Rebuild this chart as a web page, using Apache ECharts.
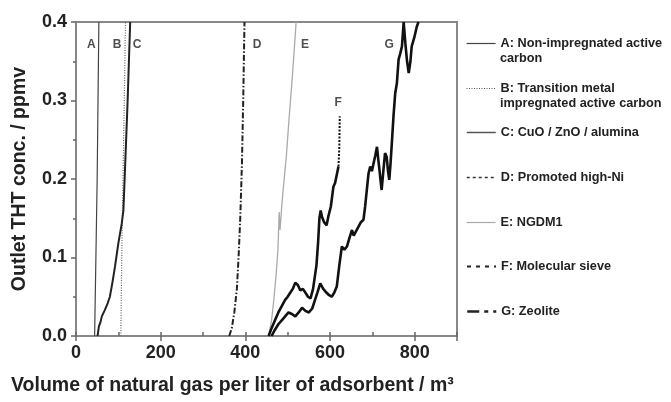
<!DOCTYPE html>
<html>
<head>
<meta charset="utf-8">
<script src="https://cdn.jsdelivr.net/npm/echarts@6/dist/echarts.min.js"></script>
<style>
  html, body { margin: 0; padding: 0; background: #fff; }
  #chart { width: 671px; height: 402px; }
</style>
</head>
<body>
<div id="chart"></div>
<script>
// breakthrough curves, [volume m3/L, THT ppmv]
var aPoints = [[44, 0], [47, 0.1], [50, 0.2], [52, 0.3], [54, 0.4]];
var bPoints = [[106, 0], [108, 0.1], [111, 0.2], [114, 0.3], [117, 0.4]];
var cPoints = [[51, 0], [54, 0.012], [58, 0.018], [61, 0.025], [68, 0.033], [75, 0.042], [80, 0.05],
    [86, 0.068], [92, 0.088], [100, 0.118], [108, 0.143], [112, 0.16], [116, 0.216], [122, 0.3], [128, 0.4]];
var dPoints = [[362, 0], [368, 0.01], [374, 0.03], [380, 0.06], [384, 0.1], [388, 0.15], [392, 0.22],
    [395, 0.3], [398, 0.4]];
var ePoints = [[455, 0], [462, 0.02], [468, 0.05], [473, 0.08], [477, 0.11], [480, 0.158], [482, 0.135],
    [486, 0.165], [490, 0.19], [497, 0.23], [503, 0.275], [511, 0.33], [520, 0.4]];
var fPoints = [[455, 0], [462, 0.01], [470, 0.02], [478, 0.03], [486, 0.038], [494, 0.046], [500, 0.05],
    [506, 0.055], [512, 0.06], [518, 0.068], [524, 0.065], [530, 0.058], [536, 0.06], [542, 0.055],
    [548, 0.05], [554, 0.048], [560, 0.06], [564, 0.075], [568, 0.09], [572, 0.12], [575, 0.15],
    [578, 0.16], [581, 0.152], [586, 0.145], [592, 0.141], [596, 0.152], [602, 0.165], [608, 0.19],
    [612, 0.195], [616, 0.197], [620, 0.216]];
var fTailPoints = [[620, 0.216], [622, 0.24], [623, 0.28]];
var gPoints = [[462, 0], [470, 0.008], [478, 0.015], [486, 0.02], [494, 0.025], [502, 0.03], [510, 0.028],
    [518, 0.025], [526, 0.03], [534, 0.036], [542, 0.032], [550, 0.03], [558, 0.035], [564, 0.045],
    [570, 0.055], [577, 0.067], [584, 0.06], [592, 0.055], [598, 0.052], [604, 0.05], [610, 0.055],
    [616, 0.063], [622, 0.09], [628, 0.114], [634, 0.11], [640, 0.114], [646, 0.125], [652, 0.135],
    [656, 0.128], [660, 0.127], [667, 0.139], [673, 0.145], [679, 0.148], [683, 0.165], [687, 0.186],
    [691, 0.207], [695, 0.216], [699, 0.21], [703, 0.22], [707, 0.23], [711, 0.241], [714, 0.225],
    [717, 0.211], [720, 0.195], [722, 0.186], [726, 0.21], [730, 0.233], [734, 0.228], [737, 0.21],
    [740, 0.199], [743, 0.22], [746, 0.245], [750, 0.28], [754, 0.309], [758, 0.322], [762, 0.352],
    [766, 0.36], [770, 0.369], [774, 0.4], [778, 0.373], [782, 0.35], [786, 0.335], [790, 0.35],
    [793, 0.369], [799, 0.38], [805, 0.394], [809, 0.4]];

var legendNames = ['A: Non-impregnated active', 'B: Transition metal', 'C: CuO / ZnO / alumina',
    'D: Promoted high-Ni', 'E: NGDM1', 'F: Molecular sieve', 'G: Zeolite'];
var legendSecondLines = ['carbon', 'impregnated active carbon'];
var curveLabels = [['A', 36, 0.371], ['B', 97, 0.371], ['C', 144, 0.371], ['D', 428, 0.371],
    ['E', 541, 0.371], ['G', 740, 0.371], ['F', 619, 0.297]];

var chart = echarts.init(document.getElementById('chart'));
var FONT = '"Liberation Sans", Arial, sans-serif';
var legendTops = [37, 82, 126, 171, 216, 260, 305];
var legendIconStyle = [
    {type: 'solid', width: 1.2, color: '#444'},
    {type: [1, 1.5], width: 1, color: '#555'},
    {type: 'solid', width: 1.5, color: '#555'},
    {type: [3, 3], width: 1.5, color: '#333'},
    {type: 'solid', width: 1.2, color: '#aaa'},
    {type: [4, 5], width: 2, color: '#222'},
    {type: [12, 5, 4, 5], width: 2.5, color: '#222'}
];

var legends = legendNames.map(function(name, i) {
    return {
        orient: 'vertical',
        left: 466,
        top: legendTops[i],
        bottom: 'auto',
        right: 'auto',
        padding: 0,
        itemWidth: 29,
        itemHeight: 14,
        itemGap: 0,
        selectedMode: false,
        textStyle: {fontFamily: FONT, fontWeight: 'bold', fontSize: 12.7, color: '#222'},
        data: [{
            name: name,
            lineStyle: legendIconStyle[i],
            itemStyle: {color: 'rgba(0,0,0,0)', borderWidth: 0, opacity: 0}
        }]
    };
});

function line(name, pts, style, z) {
    return {
        name: name,
        type: 'line',
        data: pts,
        showSymbol: false,
        symbol: 'none',
        clip: true,
        z: z || 2,
        lineStyle: style,
        itemStyle: {color: style.color},
        animation: false
    };
}

var option = {
    backgroundColor: '#fff',
    animation: false,
    legend: legends,
    grid: {left: 76, top: 22, right: 214, bottom: 66, show: true, borderColor: '#888', borderWidth: 2},
    title: {
        text: 'Volume of natural gas per liter of adsorbent / m³',
        left: 6,
        top: 371,
        textStyle: {fontFamily: FONT, fontWeight: 'bold', fontSize: 19.5, color: '#222'}
    },
    xAxis: [{
        type: 'value', min: 0, max: 900, interval: 200,
        axisLine: {show: true, lineStyle: {color: '#888', width: 2}},
        axisTick: {show: true, length: 5, lineStyle: {color: '#666', width: 1.5}},
        splitLine: {show: false},
        axisLabel: {fontFamily: FONT, fontWeight: 'bold', fontSize: 18, color: '#222', margin: 8,
            formatter: function(v) { return v <= 800 ? v : ''; }}
    }, {
        type: 'value', min: 0, max: 900, interval: 100, position: 'bottom',
        axisLine: {show: false},
        axisTick: {show: true, inside: true, length: 4, lineStyle: {color: '#666', width: 1.5}},
        splitLine: {show: false},
        axisLabel: {show: false}
    }],
    yAxis: [{
        type: 'value', min: 0, max: 0.4, interval: 0.1,
        name: 'Outlet THT conc. / ppmv',
        nameLocation: 'middle',
        nameGap: 46,
        nameTextStyle: {fontFamily: FONT, fontWeight: 'bold', fontSize: 19.5, color: '#222'},
        axisLine: {show: true, lineStyle: {color: '#888', width: 2}},
        axisTick: {show: true, length: 5, lineStyle: {color: '#666', width: 1.5}},
        splitLine: {show: false},
        axisLabel: {fontFamily: FONT, fontWeight: 'bold', fontSize: 18, color: '#222', margin: 9,
            formatter: function(v) { return v.toFixed(1); }}
    }, {
        type: 'value', min: 0, max: 0.4, interval: 0.05, position: 'left',
        axisLine: {show: false},
        axisTick: {show: true, length: 3, lineStyle: {color: '#666', width: 1.5}},
        splitLine: {show: false},
        axisLabel: {show: false}
    }],
    series: [
        line(legendNames[0], aPoints, {type: 'solid', width: 1.2, color: '#444'}),
        line(legendNames[1], bPoints, {type: [1, 1.5], width: 1.2, color: '#666'}),
        line(legendNames[2], cPoints, {type: 'solid', width: 2, color: '#222'}),
        line(legendNames[3], dPoints, {type: [6, 2, 1.5, 2], width: 2, color: '#222'}),
        line(legendNames[4], ePoints, {type: 'solid', width: 1.3, color: '#aaa'}),
        line(legendNames[5], fPoints, {type: 'solid', width: 2.6, color: '#111'}, 3),
        line('F tail', fTailPoints, {type: [2, 1.5], width: 2, color: '#111'}, 3),
        line(legendNames[6], gPoints, {type: 'solid', width: 2.6, color: '#111'}, 3),
        {
            type: 'scatter',
            symbolSize: 0,
            data: curveLabels.map(function(d) { return {name: d[0], value: [d[1], d[2]]}; }),
            label: {show: true, position: 'inside', formatter: '{b}',
                fontFamily: FONT, fontWeight: 'bold', fontSize: 12, color: '#222'},
            silent: true,
            z: 5
        }
    ],
    graphic: legendSecondLines.map(function(t, i) {
        return {
            type: 'text',
            left: 500,
            top: legendTops[i] + 15,
            style: {text: t, fontFamily: FONT, fontWeight: 'bold', fontSize: 12.7, fill: '#222'}
        };
    })
};
chart.setOption(option);
</script>
</body>
</html>
